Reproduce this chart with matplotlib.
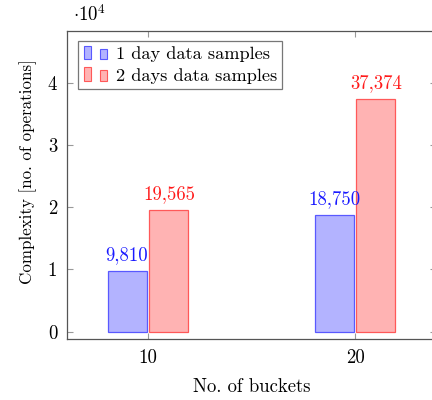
import matplotlib
matplotlib.use("Agg")
import matplotlib.pyplot as plt
from matplotlib.legend_handler import HandlerBase
from matplotlib.patches import Rectangle
from matplotlib.ticker import FuncFormatter

plt.rcParams['font.family'] = ['cmr10', 'DejaVu Serif']
plt.rcParams['mathtext.fontset'] = 'cm'
plt.rcParams['axes.unicode_minus'] = False

buckets = [10, 20]
one_day = [9810, 18750]
two_days = [19565, 37374]
series_names = ["1 day data samples", "2 days data samples"]
yticks = [0, 10000, 20000, 30000, 40000]

blue_fill = '#b3b3ff'
blue_edge = '#5959ff'
blue_text = '#1a1aff'
red_fill = '#ffb3b3'
red_edge = '#ff5959'
red_text = '#ff1a1a'

FS = 13.5

fig = plt.figure(figsize=(4.32, 4.0), dpi=100)
ax = fig.add_axes([67/432, (400-339.3)/400, (436-67)/432, (339.3-31)/400])

w = 1.88
off = 1.01
b1 = ax.bar([b - off for b in buckets], one_day, width=w, color=blue_fill,
            edgecolor=blue_edge, linewidth=0.9)
b2 = ax.bar([b + off for b in buckets], two_days, width=w, color=red_fill,
            edgecolor=red_edge, linewidth=0.9)

for rect, v in zip(b1, one_day):
    ax.annotate(f"{v:,}", (rect.get_x() + rect.get_width()/2, v), xytext=(0, 5),
                textcoords='offset points', ha='center', va='bottom',
                color=blue_text, fontsize=FS)
for rect, v in zip(b2, two_days):
    ax.annotate(f"{v:,}", (rect.get_x() + rect.get_width()/2, v), xytext=(0, 5),
                textcoords='offset points', ha='center', va='bottom',
                color=red_text, fontsize=FS)

ax.set_xlim(6.09, 23.91)
ax.set_ylim(-1220, 48300)
ax.set_xticks(buckets)
ax.set_xticklabels([str(b) for b in buckets])
ax.set_yticks(yticks)
ax.yaxis.set_major_formatter(FuncFormatter(lambda v, p: f"{int(round(v/10000))}"))
ax.tick_params(direction='in', length=4, width=0.8, color='#999999',
               top=True, right=True, labelsize=FS, pad=7)
for s in ax.spines.values():
    s.set_color('#555555')
    s.set_linewidth(0.9)

ax.text(0.015, 1.02, r'$\cdot10^4$', transform=ax.transAxes, fontsize=FS,
        ha='left', va='bottom')

ax.set_xlabel("No. of buckets", fontsize=FS, labelpad=8)
ax.set_ylabel("Complexity [no. of operations]", fontsize=12.2)
ax.yaxis.set_label_coords(-0.081, 0.543)


class TwoBars(HandlerBase):
    def __init__(self, fc, ec):
        super().__init__()
        self.fc, self.ec = fc, ec

    def create_artists(self, legend, orig_handle, xdescent, ydescent, width,
                       height, fontsize, trans):
        bw = width * 0.33
        arts = []
        for i, x0 in enumerate([0, width * 0.67]):
            h = height * (1.05 if i == 0 else 0.8)
            r = Rectangle((x0 - xdescent, -ydescent), bw, h,
                          facecolor=self.fc, edgecolor=self.ec, linewidth=0.8,
                          transform=trans)
            arts.append(r)
        return arts


h1 = Rectangle((0, 0), 1, 1)
h2 = Rectangle((0, 0), 1, 1)
leg = ax.legend([h1, h2], series_names, loc='upper left',
                bbox_to_anchor=(0.03, 0.9675), borderaxespad=0, fontsize=13.2,
                frameon=True, fancybox=False, edgecolor='#555555',
                handlelength=1.3, handletextpad=0.45, borderpad=0.3,
                labelspacing=0.3,
                handler_map={h1: TwoBars(blue_fill, blue_edge),
                             h2: TwoBars(red_fill, red_edge)})
leg.get_frame().set_linewidth(0.9)

fig.savefig("out.png", dpi=100)
